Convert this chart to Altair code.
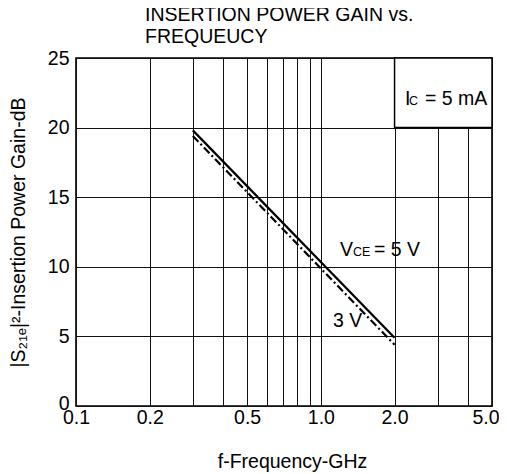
import altair as alt
import pandas as pd

# ---- data ----
freq_5v = [0.3, 2.0]
gain_5v = [19.8, 4.9]
freq_3v = [0.3, 2.0]
gain_3v = [19.4, 4.4]

x_grid_values = [0.1, 0.2, 0.3, 0.4, 0.5, 0.6, 0.7, 0.8, 0.9, 1.0, 2.0, 3.0, 4.0, 5.0]
x_label_values = [0.1, 0.2, 0.5, 1, 2, 5]
y_values = [0, 5, 10, 15, 20, 25]

box_f = [2.0]
box_f2 = [5.0]
box_g = [20]
box_g2 = [25]

title_lines = ["INSERTION POWER GAIN vs.", "FREQUEUCY"]
x_title = "f-Frequency-GHz"
y_title = "|S₂₁ₑ|²-Insertion Power Gain-dB"

FONT = "Liberation Sans"
FS = 19.5
SUB = 12.5

xscale = alt.Scale(type="log", domain=[0.1, 5.0], nice=False)
yscale = alt.Scale(domain=[0, 25], nice=False)

label_list = ",".join(str(v) for v in x_label_values)
xaxis = alt.Axis(
    values=x_grid_values,
    labelExpr=f"indexof([{label_list}], datum.value) >= 0 ? format(datum.value, '.1f') : ''",
    title=x_title,
    titleX=216, titleY=61, titleAlign="center", titleBaseline="alphabetic",
    labelPadding=2, labelFlush=False, labelOverlap=False, labelBound=False,
    labelAlign={"condition": {"test": "datum.value >= 4.9", "value": "right"}, "value": "center"},
    labelOffset={"condition": {"test": "datum.value >= 4.9", "value": 7}, "value": 0},
)
yaxis = alt.Axis(
    values=y_values,
    title=y_title,
    titleAngle=270, titleX=-52, titleY=174, titleAlign="center", titleBaseline="alphabetic",
    labelPadding=7, labelOverlap=False, labelBound=False, labelFlush=False,
    labelOffset={"condition": {"test": "datum.value == 0", "value": -3}, "value": 0},
)


def X(field="f"):
    return alt.X(f"{field}:Q", scale=xscale, axis=xaxis)


def Y(field="g"):
    return alt.Y(f"{field}:Q", scale=yscale, axis=yaxis)


line5 = alt.Chart(pd.DataFrame({"f": freq_5v, "g": gain_5v})).mark_line(
    color="black", strokeWidth=2.2
).encode(x=X(), y=Y())

line3 = alt.Chart(pd.DataFrame({"f": freq_3v, "g": gain_3v})).mark_line(
    color="black", strokeWidth=2.2, strokeDash=[8, 3, 2, 3]
).encode(x=X(), y=Y())

box = alt.Chart(pd.DataFrame({"f": box_f, "f2": box_f2, "g": box_g, "g2": box_g2})).mark_rect(
    fill="white", stroke="black", strokeWidth=1.5
).encode(x=X(), x2="f2:Q", y=Y(), y2="g2:Q")


def txt(s, x, y, size=FS):
    return alt.Chart(pd.DataFrame({"t": [s]})).mark_text(
        font=FONT, fontSize=size, align="left", baseline="alphabetic", color="black"
    ).encode(text="t:N", x=alt.value(x), y=alt.value(y))


labels = [
    txt("I", 329, 47), txt("C", 333, 47, SUB), txt("= 5 mA", 349, 47),
    txt("V", 264, 198), txt("CE", 277, 198, SUB), txt("= 5 V", 298, 198),
    txt("3 V", 257, 269),
]

chart = alt.layer(box, line3, line5, *labels).properties(
    width=416,
    height=348,
    autosize=alt.AutoSizeParams(type="none"),
    padding={"left": 68, "top": 50, "right": 7, "bottom": 68},
    title=alt.TitleParams(
        text=title_lines, anchor="start", frame="group", dx=69, offset=1,
        font=FONT, fontSize=FS, fontWeight="normal", lineHeight=22, color="black",
    ),
).configure_view(
    stroke="black", strokeWidth=1.6
).configure_axis(
    domain=False, ticks=False, grid=True, gridColor="#111", gridWidth=1, gridOpacity=1,
    labelFont=FONT, labelFontSize=FS, labelColor="black",
    titleFont=FONT, titleFontSize=FS, titleFontWeight="normal", titleColor="black",
)

chart.save("out.html", embed_options={"renderer": "svg", "actions": False})
